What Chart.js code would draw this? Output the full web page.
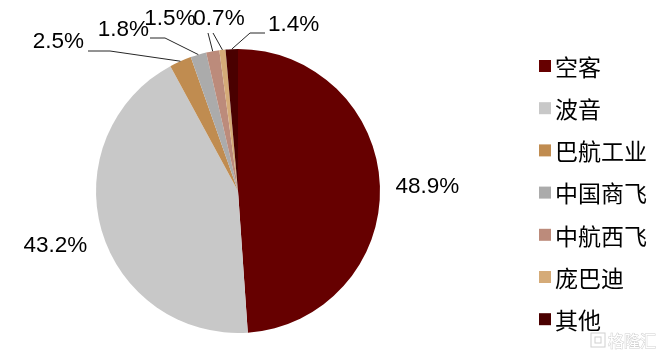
<!DOCTYPE html>
<html>
<head>
<meta charset="utf-8">
<script src="https://cdn.jsdelivr.net/npm/chart.js@4"></script>
<style>
html,body{margin:0;padding:0;background:#fff;}
#c{display:block;}
</style>
</head>
<body>
<canvas id="c" width="662" height="354"></canvas>
<script>
const categories = ['空客', '波音', '巴航工业', '中国商飞', '中航西飞', '庞巴迪', '其他'];
const shares = [48.9, 43.2, 2.5, 1.8, 1.5, 0.7, 1.4];
const colors = ['#660000', '#C8C8C8', '#C08C50', '#ABABAB', '#BC8B7B', '#D5AB78', '#4A0000'];

// label layout for each slice: radial for big ones, leader lines for small ones
const labelLayout = [
  {radial: 1.335},
  {radial: 1.34},
  {elbow: [110, 51], end: [88, 51], text: [84, 42], align: 'right'},
  {elbow: [165, 38], end: [150, 38], text: [149, 30], align: 'right'},
  {elbow: null, end: [208, 33], text: [170, 19], align: 'center'},
  {elbow: null, end: [213, 33], text: [219, 19], align: 'center'},
  {elbow: [250, 33], end: [265, 33], text: [268, 25], align: 'left'}
];

const labelPlugin = {
  id: 'pieLabels',
  afterDatasetsDraw(chart) {
    const ctx = chart.ctx;
    const meta = chart.getDatasetMeta(0);
    ctx.save();
    ctx.font = '22.5px "Liberation Sans", Arial, sans-serif';
    ctx.fillStyle = '#000';
    ctx.textBaseline = 'middle';
    meta.data.forEach((arc, i) => {
      const p = arc.getProps(['x', 'y', 'startAngle', 'endAngle', 'outerRadius'], true);
      const mid = (p.startAngle + p.endAngle) / 2;
      const txt = shares[i].toFixed(1) + '%';
      const L = labelLayout[i];
      if (L.radial) {
        const r = p.outerRadius * L.radial;
        ctx.textAlign = 'center';
        ctx.fillText(txt, p.x + Math.cos(mid) * r, p.y + Math.sin(mid) * r + 2);
      } else {
        const ax = p.x + Math.cos(mid) * p.outerRadius;
        const ay = p.y + Math.sin(mid) * p.outerRadius;
        ctx.strokeStyle = '#262626';
        ctx.lineWidth = 1;
        ctx.beginPath();
        ctx.moveTo(ax, ay);
        if (L.elbow) ctx.lineTo(L.elbow[0], L.elbow[1]);
        ctx.lineTo(L.end[0], L.end[1]);
        ctx.stroke();
        ctx.textAlign = L.align;
        ctx.fillText(txt, L.text[0], L.text[1]);
      }
    });
    ctx.restore();
  }
};

const legendPlugin = {
  id: 'sideLegend',
  afterDraw(chart) {
    const ctx = chart.ctx;
    ctx.save();
    ctx.font = '23px "Noto Sans CJK SC", sans-serif';
    ctx.textBaseline = 'middle';
    ctx.textAlign = 'left';
    categories.forEach((name, i) => {
      const y = 66 + i * 42.2;
      ctx.fillStyle = colors[i];
      ctx.fillRect(539, y - 6, 12, 12);
      ctx.fillStyle = '#000';
      ctx.fillText(name, 555, y + 1);
    });
    // watermark
    ctx.font = '16px "Noto Sans CJK SC", sans-serif';
    ctx.lineWidth = 1;
    ctx.strokeStyle = '#d0d0d0';
    ctx.fillStyle = '#ffffff';
    ctx.strokeRect(591, 333, 14, 14);
    ctx.strokeRect(595, 337, 6, 6);
    ctx.strokeText('格隆汇', 608, 341);
    ctx.fillText('格隆汇', 608, 341);
    ctx.restore();
  }
};

new Chart(document.getElementById('c'), {
  type: 'pie',
  data: {
    labels: categories,
    datasets: [{
      data: shares,
      backgroundColor: colors,
      borderWidth: 0
    }]
  },
  options: {
    responsive: false,
    animation: false,
    layout: {padding: {left: 96, right: 282, top: 49, bottom: 21}},
    plugins: {
      legend: {display: false},
      tooltip: {enabled: false}
    }
  },
  plugins: [labelPlugin, legendPlugin]
});
</script>
</body>
</html>
